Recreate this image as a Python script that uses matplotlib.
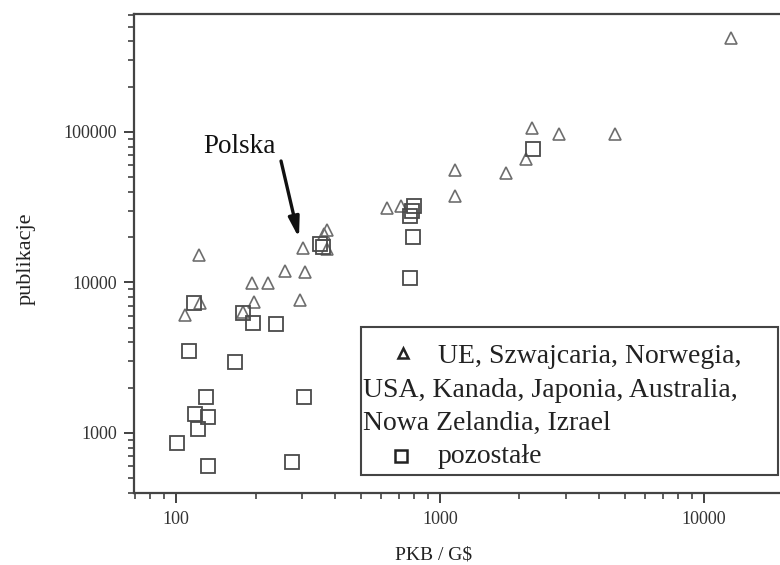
import numpy as np
import matplotlib
matplotlib.use('Agg')
import matplotlib.pyplot as plt
from matplotlib.ticker import FixedLocator, LogLocator, NullFormatter, FuncFormatter
from matplotlib.patches import Rectangle

plt.rcParams['font.family'] = ['Liberation Serif', 'DejaVu Serif']

# UE, Szwajcaria, Norwegia, USA, Kanada, Japonia, Australia, Nowa Zelandia, Izrael
pkb_tri = [12650, 2230, 2830, 4600, 2120, 1140, 1780, 1140, 630, 711,
           364, 373, 373, 303, 122, 259, 308, 194, 223, 197, 295, 123, 108, 180]
pub_tri = [422000, 106000, 97000, 97000, 66000, 56000, 53500, 37600, 31300, 32200,
           21000, 22300, 16700, 16900, 15200, 11900, 11750, 9930, 9930, 7420, 7650, 7310, 6080, 6370]

# pozostale
pkb_sq = [2250, 798, 783, 769, 791, 769, 351, 360, 117, 180, 196, 239,
          112, 167, 130, 305, 118, 132, 121, 101, 132, 275]
pub_sq = [77100, 32200, 29800, 27700, 20000, 10700, 18000, 17200, 7310, 6270, 5390, 5300,
          3510, 2970, 1735, 1735, 1337, 1277, 1063, 858, 604, 641]

x_ticks = [100, 1000, 10000]
y_ticks = [1000, 10000, 100000]

legend_lines = ['UE, Szwajcaria, Norwegia,',
                'USA, Kanada, Japonia, Australia,',
                'Nowa Zelandia, Izrael',
                'pozostałe']

fig = plt.figure(figsize=(7.8, 5.65), dpi=100)
ax = fig.add_axes([134/780, 72/565, 650/780, 479/565])

ax.plot(pkb_tri, pub_tri, ls='none', marker='^', ms=8.5, mfc='none', mec='#6e6e6e', mew=1.2)
ax.plot(pkb_sq, pub_sq, ls='none', marker='s', ms=10, mfc='none', mec='#4a4a4a', mew=1.3)

ax.set_xscale('log')
ax.set_yscale('log')
ax.set_xlim(69.3, 20100)
ax.set_ylim(399, 608000)

fmt = FuncFormatter(lambda v, p: '%d' % v)
ax.xaxis.set_major_locator(FixedLocator(x_ticks))
ax.yaxis.set_major_locator(FixedLocator(y_ticks))
ax.xaxis.set_major_formatter(fmt)
ax.yaxis.set_major_formatter(fmt)
ax.xaxis.set_minor_locator(LogLocator(base=10, subs=np.arange(2, 10)))
ax.yaxis.set_minor_locator(LogLocator(base=10, subs=np.arange(2, 10)))
ax.xaxis.set_minor_formatter(NullFormatter())
ax.yaxis.set_minor_formatter(NullFormatter())

ax.tick_params(which='both', direction='out', top=False, right=False,
               color='#333333', labelcolor='#333333', labelsize=13)
ax.tick_params(which='major', length=7, width=1.3)
ax.tick_params(which='minor', length=4, width=1.1)
ax.tick_params(axis='x', pad=6)
ax.tick_params(axis='y', pad=5)

for s in ['left', 'top', 'bottom']:
    ax.spines[s].set_color('#444444')
    ax.spines[s].set_linewidth(1.6)
ax.spines['right'].set_visible(False)

fig.text(26/780, 1 - 259/565, 'publikacje', rotation=90, ha='center', va='center',
         fontsize=16, color='#222222')
fig.text(434/780, 1 - 555/565, r'PKB / G\$', ha='center', va='center',
         fontsize=14, color='#222222')

# Polska
ax.text(0.1062, 0.7098, 'Polska', transform=ax.transAxes, fontsize=19.5,
        color='#111111', va='baseline', ha='left')
ax.annotate('', xy=(0.2538, 0.5324), xytext=(0.2262, 0.6931),
            xycoords='axes fraction', textcoords='axes fraction',
            arrowprops=dict(arrowstyle='-|>,head_length=0.6,head_width=0.16',
                            lw=2.4, color='#111111', mutation_scale=20,
                            shrinkA=0, shrinkB=0))

# legenda
ax.add_patch(Rectangle((0.349, 0.0376), 0.991 - 0.349, 0.3466 - 0.0376,
                       transform=ax.transAxes, fill=False, ec='#444444', lw=1.5,
                       clip_on=False, zorder=5))
ax.plot([0.4138], [0.2923], transform=ax.transAxes, marker='^', ms=7, mfc='none',
        mec='#222222', mew=1.8, ls='none', clip_on=False, zorder=6)
ax.plot([0.4108], [0.0772], transform=ax.transAxes, marker='s', ms=8, mfc='none',
        mec='#222222', mew=1.8, ls='none', clip_on=False, zorder=6)
leg_x = [0.4677, 0.3523, 0.3523, 0.4677]
leg_y = [0.2714, 0.2004, 0.1315, 0.0626]
for tx, ty, t in zip(leg_x, leg_y, legend_lines):
    ax.text(tx, ty, t, transform=ax.transAxes, fontsize=20, color='#222222',
            va='baseline', ha='left', zorder=6)

fig.savefig('out.png', dpi=100)
